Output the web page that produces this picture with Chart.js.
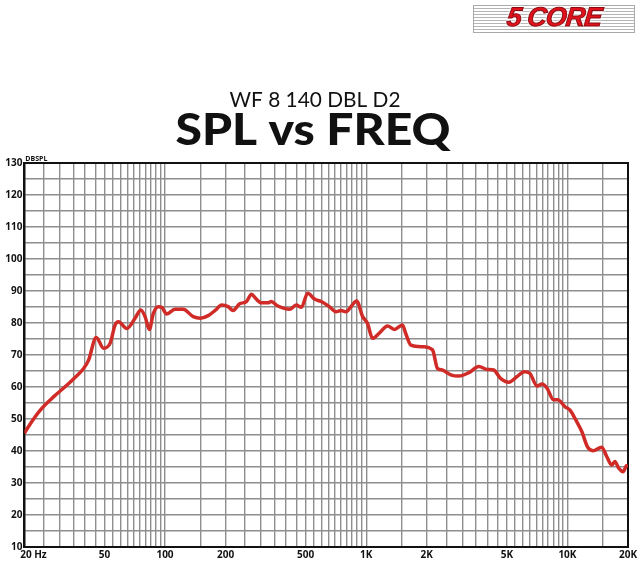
<!DOCTYPE html>
<html>
<head>
<meta charset="utf-8">
<script src="https://cdn.jsdelivr.net/npm/chart.js@4.4.1/dist/chart.umd.min.js"></script>
<style>
  html, body { margin: 0; padding: 0; background: #fff; }
  #wrap { position: relative; width: 640px; height: 562px; }
  #logo {
    position: absolute; left: 473px; top: 5px; width: 160px; height: 26px;
    border: 1px solid #aaa;
    background: repeating-linear-gradient(to bottom, #fff 0px, #fff 2px, #b5b5b5 2px, #b5b5b5 3px);
    text-align: center;
  }
  #logo span {
    display: inline-block; margin-top: -4px; padding: 0 6px;
    font: italic 900 27px "Liberation Sans", Arial, sans-serif;
    letter-spacing: -1px;
    color: #e0121c;
    -webkit-text-stroke: 1px #8a0a10;
    text-shadow: 0 0 3px #fff, 0 0 3px #fff, 0 0 3px #fff;
    transform: skewX(-6deg);
  }
</style>
</head>
<body>
<div id="wrap">
  <canvas id="splChart" width="640" height="562"></canvas>
  <div id="logo"><span>5 CORE</span></div>
</div>
<script>
const freqHz = [20, 21.5, 24, 28, 32.6, 36, 39.4, 41.7, 45.5, 49.5, 53.4, 56.5, 58.7, 64.6, 71, 75.8, 79.6, 83.6, 87.5, 92.6, 96.3,
  102, 112, 123, 138, 150, 164, 178, 191, 206, 218, 235, 254, 269, 282, 301, 325, 337, 364, 416, 449, 476, 512, 553, 597, 656, 707, 749, 793, 840, 896, 960,
  1014, 1075, 1160, 1275, 1380, 1515, 1570, 1668, 1905, 2135, 2260, 2390, 2630, 2890, 3240, 3630, 3990, 4300, 4650, 5120, 5600, 6100, 6500, 7060, 7480, 7920, 8530, 8950, 9740,
  10300, 10900, 11800, 12600, 13400, 14800, 15700, 16600, 17200, 18000, 18900, 19600, 20000];
const splDb = [45.5, 48.7, 52.8, 57, 60.6, 63.2, 65.8, 68.4, 75.5, 72.1, 73.7, 79.4, 80.4, 78.3, 81.5, 84.1, 82, 78, 83, 85.1, 84.9,
  82.8, 84.3, 84.3, 82, 81.5, 82.3, 84, 85.6, 85.1, 83.9, 86, 86.7, 89, 87.7, 86.3, 86.3, 86.7, 85.3, 84.3, 85.6, 84.9, 89.3, 87.5, 86.7, 85.1, 83.5, 83.9, 83.5, 85.1, 86.9, 82,
  79.9, 75.2, 76.8, 79.1, 78, 79.4, 76.8, 73.1, 72.6, 71.6, 65.8, 65.3, 63.8, 63.4, 64.5, 66.4, 65.5, 65.3, 62.7, 61.5, 63.2, 64.8, 64.3, 60.3, 60.9, 59.6, 56, 56, 53.8,
  52.8, 50.2, 46, 41.2, 40.1, 41.2, 38.2, 35.6, 36.7, 34.6, 33.5, 35.3, 35.5];

const xTickValues = [20, 50, 100, 200, 500, 1000, 2000, 5000, 10000, 20000];
const xTickLabels = ['       20 Hz', '50', '100', '200', '500', '1K', '2K', '5K', '10K', '20K'];
const yMin = 10, yMax = 130, yLabelStep = 10, yGridStep = 5;

const titleTop = 'WF 8 140 DBL D2';
const titleMain = 'SPL vs FREQ';
const yUnit = 'DBSPL';

// vertical grid: every 5 Hz, 50 Hz, 500 Hz, 5 kHz per decade
let xGrid = [];
for (let f = 20; f < 100; f += 5) xGrid.push(f);
for (let f = 100; f < 1000; f += 50) xGrid.push(f);
for (let f = 1000; f < 10000; f += 500) xGrid.push(f);
for (let f = 10000; f <= 20000; f += 5000) xGrid.push(f);

let points = [];
for (let i = 0; i < freqHz.length; i++) {
    points.push({x: freqHz[i], y: splDb[i]});
}

function drawFitted(ctx, text, font, cx, baseline, width) {
    ctx.save();
    ctx.font = font;
    let w = ctx.measureText(text).width;
    ctx.translate(cx, baseline);
    ctx.scale(width / w, 1);
    ctx.textAlign = 'center';
    ctx.textBaseline = 'alphabetic';
    ctx.fillStyle = '#111';
    ctx.fillText(text, 0, 0);
    ctx.restore();
}

const frame = {
    id: 'frame',
    beforeDatasetsDraw(chart) {
        const a = chart.chartArea;
        const ctx = chart.ctx;
        ctx.save();
        ctx.strokeStyle = '#111';
        ctx.lineWidth = 2;
        ctx.strokeRect(a.left, a.top, a.right - a.left, a.bottom - a.top);
        ctx.restore();
    },
    afterDraw(chart) {
        const a = chart.chartArea;
        const ctx = chart.ctx;
        drawFitted(ctx, titleTop, '400 21px Lato', 315, 107, 171);
        drawFitted(ctx, titleMain, '900 44px Lato', 313, 145, 275);
        ctx.save();
        ctx.font = 'bold 7px "Open Sans"';
        ctx.fillStyle = '#111';
        ctx.textAlign = 'left';
        ctx.textBaseline = 'bottom';
        ctx.fillText(yUnit, a.left + 1, a.top - 1);
        ctx.restore();
    }
};

new Chart(document.getElementById('splChart'), {
    type: 'line',
    data: {
        datasets: [{
            data: points,
            borderColor: '#d02b27',
            borderWidth: 3.5,
            pointRadius: 0,
            cubicInterpolationMode: 'monotone',
            fill: false
        }]
    },
    options: {
        responsive: false,
        animation: false,
        layout: { padding: { top: 163, right: 12, left: 0, bottom: 0 } },
        plugins: { legend: { display: false }, tooltip: { enabled: false } },
        scales: {
            x: {
                type: 'logarithmic',
                min: 20,
                max: 20000,
                afterBuildTicks(scale) {
                    scale.ticks = xGrid.map(v => ({value: v}));
                },
                afterFit(scale) { scale.height = 15; },
                ticks: {
                    autoSkip: false,
                    maxRotation: 0,
                    padding: 2,
                    color: '#111',
                    font: { family: 'Open Sans', weight: 'bold', size: 10 },
                    callback: function(value) {
                        let i = xTickValues.indexOf(value);
                        return i >= 0 ? xTickLabels[i] : '';
                    }
                },
                grid: { color: '#8e8e8e', lineWidth: 1.4, drawTicks: false },
                border: { color: '#111', width: 2 }
            },
            y: {
                min: yMin,
                max: yMax,
                afterFit(scale) { scale.width = 22; },
                ticks: {
                    stepSize: yGridStep,
                    padding: 2,
                    color: '#111',
                    font: { family: 'Open Sans', weight: 'bold', size: 10 },
                    callback: function(value) {
                        return value % yLabelStep === 0 ? value : '';
                    }
                },
                grid: { color: '#8e8e8e', lineWidth: 1.4, drawTicks: false },
                border: { color: '#111', width: 2 }
            }
        }
    },
    plugins: [frame]
});
</script>
</body>
</html>
